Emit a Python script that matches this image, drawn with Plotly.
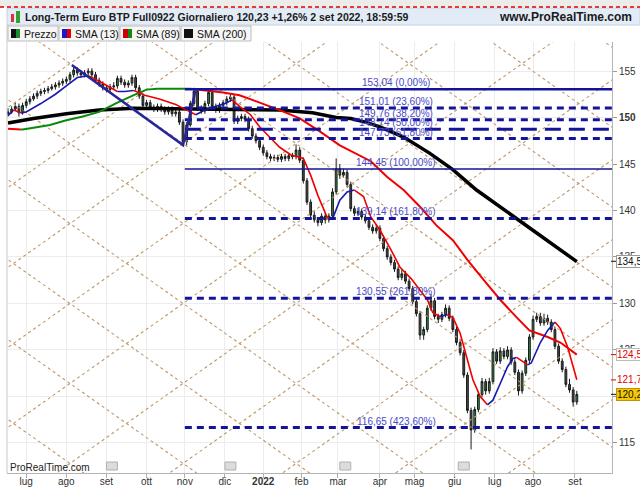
import plotly.graph_objects as go

# closes every second session, jun 2021 -> 2 set 2022
cl = [150.6, 150.9, 151.2, 150.5, 151.3, 151.7, 152.0, 152.3, 152.6, 152.8,
      152.9, 153.1, 153.3, 153.5, 153.7, 153.9, 154.1, 154.6, 155.1, 154.8,
      154.6, 154.8, 155.0, 154.6, 154.0, 153.6, 153.2, 153.0, 153.3, 153.4,
      154.2, 153.8, 153.5, 153.7, 154.3, 153.2, 152.3, 151.3, 151.6, 151.1,
      150.9, 151.2, 150.9, 150.6, 150.9, 150.4, 150.6, 149.5, 147.4, 149.2,
      151.5, 152.8, 151.0, 150.7, 151.5, 152.7, 151.2, 150.8, 151.3, 151.6,
      152.0, 152.2, 149.6, 149.9, 150.1, 149.8, 148.8, 148.0, 147.5, 146.8,
      146.2, 145.8, 145.6, 145.7, 145.5, 145.8, 145.6, 145.9, 145.8, 146.5,
      145.4, 143.2, 140.9, 139.5, 139.0, 138.7, 139.4, 139.0, 139.4, 142.0,
      144.5, 143.8, 144.1, 142.8, 140.2, 139.7, 139.9, 139.3, 138.9, 138.2,
      137.8, 138.1, 137.0, 135.9, 135.0, 134.4, 133.7, 132.8, 133.2, 132.4,
      131.6, 130.2, 128.9, 126.6, 127.2, 129.5, 130.3, 128.6, 128.3, 128.8,
      129.5, 128.4, 127.2, 125.8, 124.7, 122.3, 118.5, 116.4, 118.6, 120.2,
      121.6, 120.6, 121.6, 124.8, 123.8, 124.9, 124.3, 125.0, 123.7, 122.6,
      120.6, 122.5, 123.9, 126.4, 128.3, 128.6, 127.9, 128.4, 128.0, 127.2,
      125.4, 123.8, 122.9, 121.3, 120.7, 119.4, 120.23]
hi = [151.0, 151.2, 151.6, 151.5, 151.6, 152.0, 152.3, 152.6, 152.9, 153.1,
      153.2, 153.4, 153.6, 153.8, 154.0, 154.2, 154.4, 154.9, 155.5, 155.4,
      155.1, 155.1, 155.3, 155.3, 154.9, 154.3, 153.9, 153.5, 153.6, 153.8,
      154.5, 154.5, 154.1, 154.0, 154.6, 154.6, 153.5, 152.6, 151.9, 151.9,
      151.4, 151.5, 151.5, 151.2, 151.2, 151.2, 150.9, 150.9, 149.8, 149.5,
      151.8, 153.2, 153.1, 151.3, 151.8, 153.1, 153.0, 151.5, 151.6, 151.9,
      152.3, 152.6, 152.5, 150.2, 150.4, 150.4, 150.1, 149.1, 148.3, 147.8,
      147.1, 146.5, 146.1, 146.0, 146.0, 146.1, 146.1, 146.2, 146.2, 147.1,
      146.8, 145.7, 143.5, 141.2, 139.9, 139.3, 139.7, 139.7, 139.7, 142.4,
      145.6, 145.0, 144.5, 144.4, 143.1, 140.5, 140.2, 140.2, 139.6, 139.2,
      138.5, 138.5, 138.4, 137.3, 136.2, 135.3, 134.7, 134.0, 133.6, 133.5,
      132.7, 131.9, 130.5, 129.2, 127.5, 129.8, 131.0, 130.6, 128.9, 129.1,
      129.9, 129.8, 128.7, 127.5, 126.1, 125.0, 122.6, 118.8, 118.9, 120.5,
      122.0, 121.9, 122.0, 125.2, 125.1, 125.3, 125.2, 125.4, 125.3, 124.0,
      122.9, 122.8, 124.2, 126.7, 128.7, 129.0, 129.0, 128.9, 128.8, 128.3,
      127.5, 125.7, 124.1, 123.2, 121.9, 121.0, 120.6]
lo = [150.1, 150.4, 150.7, 150.1, 150.3, 151.0, 151.4, 151.8, 152.0, 152.3,
      152.5, 152.6, 152.9, 153.0, 153.2, 153.4, 153.6, 153.8, 154.3, 154.5,
      154.3, 154.3, 154.5, 154.3, 153.7, 153.3, 152.9, 152.7, 152.7, 153.0,
      153.1, 153.5, 153.2, 153.2, 153.4, 152.9, 152.0, 151.0, 151.0, 150.8,
      150.6, 150.6, 150.6, 150.3, 150.3, 150.1, 150.1, 149.2, 146.9, 147.0,
      149.0, 151.2, 150.7, 150.4, 150.4, 151.2, 150.9, 150.5, 150.5, 151.0,
      151.3, 151.7, 149.3, 149.3, 149.6, 149.5, 148.5, 147.7, 147.2, 146.5,
      145.9, 145.5, 145.3, 145.3, 145.2, 145.2, 145.3, 145.3, 145.5, 145.5,
      145.1, 142.9, 140.6, 139.2, 138.7, 138.3, 138.4, 138.6, 138.7, 139.1,
      141.7, 143.4, 143.5, 142.5, 139.9, 139.4, 139.4, 139.0, 138.6, 137.9,
      137.5, 137.5, 136.7, 135.6, 134.7, 134.1, 133.4, 132.5, 132.5, 132.1,
      131.3, 129.9, 128.6, 126.1, 126.1, 126.9, 129.2, 128.3, 127.9, 128.0,
      128.5, 128.1, 126.9, 125.5, 124.4, 122.0, 118.2, 114.3, 116.1, 118.3,
      119.9, 120.2, 120.3, 121.3, 123.5, 123.5, 124.0, 124.0, 123.4, 122.3,
      120.1, 120.3, 122.2, 123.6, 126.1, 128.0, 127.6, 127.6, 127.7, 126.9,
      125.1, 123.5, 122.6, 121.0, 120.4, 118.9, 119.1]
first_open = 150.4

# sessions per month, lug 2021 .. ago 2022
month_days = [22, 22, 22, 21, 22, 21, 21, 20, 23, 19, 22, 22, 21, 23]
first_month = 10
month_lbl = ["lug", "ago", "set", "ott", "nov", "dic", "<b>2022</b>", "feb",
             "mar", "apr", "mag", "giu", "lug", "ago", "set"]

sma13_x = [0, 3, 7, 10, 18, 26, 32, 38, 44, 50, 60, 64, 69, 75, 83, 92, 97, 103, 108, 114,
           119, 123, 127, 133, 138, 144, 149, 155, 162, 166, 170, 175, 178, 182, 186, 190,
           195, 199, 204, 210, 215, 221, 230, 233, 237, 241, 244, 248, 252, 255, 259, 263,
           266, 270, 274, 277, 279, 282, 285, 287, 292, 296, 300, 303, 307, 310, 312]
sma13_y = [150.2, 150.8, 150.5, 150.6, 151.5, 152.5, 153.4, 154.3, 154.5, 153.9,
           152.8, 152.8, 152.9, 152.4, 152.0, 151.4, 150.9, 150.3, 150.8, 151.2,
           151.5, 151.9, 151.2, 150.3, 149.0, 147.8, 146.8, 146.0, 145.6, 143.8,
           141.6, 139.3, 139.1, 141.1, 142.0, 142.2, 141.5, 139.3, 137.9, 135.8,
           133.9, 132.7, 130.4, 129.0, 128.6, 128.8, 128.5, 126.8, 123.9, 121.8,
           120.0, 119.1, 119.6, 121.4, 123.2, 124.1, 124.2, 123.8, 123.4, 123.6,
           125.8, 127.1, 128.0, 127.3, 125.3, 123.2, 121.8]
sma89_x = [0, 7, 8, 14, 23, 32, 41, 50, 60, 69, 76, 82, 89, 97, 100, 118, 127, 137, 149, 160,
           171, 182, 199, 208, 217, 226, 235, 244, 252, 261, 270, 279, 286, 296, 303, 312]
sma89_y = [148.8, 148.7, 148.7, 148.9, 149.2, 149.7, 150.1, 150.6, 151.6, 152.4,
           153.0, 153.1, 153.1, 153.1, 153.1, 152.7, 152.4, 151.7, 150.8, 149.9,
           148.5, 147.0, 145.3, 143.6, 142.2, 140.4, 138.4, 136.8, 134.7, 132.5,
           130.4, 128.5, 127.1, 126.4, 125.8, 124.5]
sma200_x = [0, 14, 32, 50, 69, 94, 122, 149, 167, 180, 188, 196, 204, 217, 231, 244,
            257, 270, 282, 297, 312]
sma200_y = [149.4, 149.9, 150.4, 150.8, 151.0, 150.95, 150.9, 150.8, 150.5, 150.0, 149.9,
            149.5, 149.0, 147.9, 146.2, 144.4, 142.2, 140.4, 138.7, 136.6, 134.5]

fib_val = [153.04, 151.01, 149.76, 148.74, 147.73, 144.45, 139.14, 130.55, 116.65]
fib_pct = ["0,00%", "23,60%", "38,20%", "50,00%", "61,80%", "100,00%", "161,80%",
           "261,80%", "423,60%"]
fib_start = 97

trend_x = [35, 96, 103]
trend_y = [155.65, 147.04, 153.04]

gann_a = (34, 155.8)
gann_b = (96, 147.2)

XR = [-0.55, 331.3]
YR = [111.77, 158.12]


def px(v):
    return (v - 7) / 605


def py(v):
    return (473 - v) / 431


fig = go.Figure()

# gann grid
sx = (gann_b[0] - gann_a[0]) / 2
sv = (gann_a[1] - gann_b[1]) / 2
slope = sv / sx
gx, gy = [], []
for n in range(-12, 12):
    for sgn in (1, -1):
        x0, x1 = -5, 340
        gx += [x0, x1, None]
        gy += [gann_a[1] + sgn * slope * (x0 - gann_a[0]) + 2 * sv * n,
               gann_a[1] + sgn * slope * (x1 - gann_a[0]) + 2 * sv * n, None]
fig.add_trace(go.Scatter(x=gx, y=gy, mode="lines",
                         line=dict(color="#be9866", width=1.1, dash="3px,3px")))


def add_colored(xs, ys, up, dn, w):
    runs = []
    for i in range(len(xs) - 1):
        c = up if ys[i + 1] >= ys[i] else dn
        if runs and runs[-1][0] == c:
            runs[-1][1].append(i + 1)
        else:
            runs.append([c, [i, i + 1]])
    for c, ks in runs:
        fig.add_trace(go.Scatter(x=[xs[k] for k in ks], y=[ys[k] for k in ks],
                                 mode="lines", line=dict(color=c, width=w)))


fig.add_trace(go.Scatter(x=sma200_x, y=sma200_y, mode="lines",
                         line=dict(color="black", width=3.5)))
add_colored(sma89_x, sma89_y, "#0a8a0a", "#f00000", 2)

xs = [2 * i for i in range(len(cl))]
op = [first_open] + cl[:-1]
fig.add_trace(go.Candlestick(
    x=xs, open=op, high=hi, low=lo, close=cl,
    increasing=dict(line=dict(color="#1a1a1a", width=1), fillcolor="#2b8a3e"),
    decreasing=dict(line=dict(color="#1a1a1a", width=1), fillcolor="#4a4a4a"),
    whiskerwidth=0))

add_colored(sma13_x, sma13_y, "#1818b0", "#f00000", 1.6)

# fibonacci levels
for v, p in zip(fib_val, fib_pct):
    if p in ("0,00%", "100,00%"):
        dash, w = "solid", (2.5 if p == "0,00%" else 1.5)
    elif p == "50,00%":
        dash, w = "16px,8px", 3
    else:
        dash, w = "7px,5px", 3
    fig.add_trace(go.Scatter(x=[fib_start, 335], y=[v, v], mode="lines",
                             line=dict(color="#14149a", width=w, dash=dash)))
    fig.add_annotation(x=213, y=v, xref="x", yref="y", yanchor="bottom",
                       text=f"{v:.2f}".replace(".", ",") + f" ({p})", showarrow=False,
                       font=dict(size=10, color="#4a4ac8"), borderpad=0)

fig.add_trace(go.Scatter(x=trend_x, y=trend_y, mode="lines",
                         line=dict(color="#26269a", width=2.5)))

# header, legend strip and decorations
shapes = [
    dict(type="rect", xref="paper", yref="paper", x0=px(0), x1=px(640), y0=py(7), y1=py(0),
         fillcolor="#ececea", line_width=0),
    dict(type="rect", xref="paper", yref="paper", x0=px(7), x1=px(640), y0=py(25), y1=py(8),
         fillcolor="#e3ecf6", line=dict(color="#c4d2e0", width=1)),
    dict(type="line", xref="paper", yref="paper", x0=px(0), x1=px(640), y0=py(7), y1=py(7),
         line=dict(color="#e00000", width=1.5, dash="4px,3px")),
    dict(type="line", xref="paper", yref="paper", x0=px(7), x1=px(7), y0=0, y1=py(25),
         line=dict(color="#c8c8c8", width=1)),
]
legend_items = [("Prezzo", 8, 58, "#111111", "#1f8a2e"),
                ("SMA (13)", 59, 119, "#1a1acc", "#e00000"),
                ("SMA (89)", 120, 180, "#d00000", "#108a10"),
                ("SMA (200)", 181, 251, "#111111", "#111111")]
for name, a, b, c1, c2 in legend_items:
    shapes.append(dict(type="rect", xref="paper", yref="paper", x0=px(a), x1=px(b),
                       y0=py(41), y1=py(26), fillcolor="#f6f6f6",
                       line=dict(color="#bcbcbc", width=1)))
    shapes.append(dict(type="rect", xref="paper", yref="paper", x0=px(a + 3), x1=px(a + 8),
                       y0=py(38), y1=py(29), fillcolor=c1, line_width=0))
    shapes.append(dict(type="rect", xref="paper", yref="paper", x0=px(a + 8), x1=px(a + 12),
                       y0=py(38), y1=py(29), fillcolor=c2, line_width=0))
    fig.add_annotation(x=px(a + 14), y=py(33.5), xref="paper", yref="paper", xanchor="left",
                       yanchor="middle", text=name, showarrow=False,
                       font=dict(size=10.5, color="#111"))
shapes.append(dict(type="rect", xref="paper", yref="paper", x0=px(11), x1=px(14),
                   y0=py(22), y1=py(14), fillcolor="#e03030", line_width=0))
shapes.append(dict(type="rect", xref="paper", yref="paper", x0=px(16), x1=px(20),
                   y0=py(23), y1=py(11), fillcolor="#30a030", line_width=0))
for fx in (57, 122, 185, 250):
    shapes.append(dict(type="rect", xref="x", yref="paper", x0=fx - 3, x1=fx + 3,
                       y0=py(470), y1=py(462), fillcolor="#dcdcdc",
                       line=dict(color="#b0b0b0", width=1)))

fig.add_annotation(x=px(23), y=py(17), xref="paper", yref="paper", xanchor="left",
                   yanchor="middle",
                   text="<b>Long-Term Euro BTP Full0922 Giornaliero 120,23 +1,26% 2 set 2022, 18:59:59</b>",
                   showarrow=False, font=dict(size=10.5, color="#1a1a1a"))
fig.add_annotation(x=px(497), y=py(17), xref="paper", yref="paper", xanchor="left",
                   yanchor="middle", text="<b>www.ProRealTime.com</b>", showarrow=False,
                   font=dict(size=12, color="#1a1a1a"))
fig.add_annotation(x=px(8), y=py(467), xref="paper", yref="paper", xanchor="left",
                   yanchor="middle", text="ProRealTime.com", showarrow=False,
                   font=dict(size=10, color="#222"))

# last values on the price axis
last_lbl = [(134.54, "134,5", "#111", "white", "#999"),
            (124.50, "124,5", "#e00000", "white", "#bbb"),
            (121.78, "121,7", "#e00000", "white", "white"),
            (120.23, "120,2", "#111", "#f5c800", "#c09000")]
for v, t, fc, bg, bc in last_lbl:
    shapes.append(dict(type="line", xref="paper", yref="y", x0=px(611), x1=px(616),
                       y0=v, y1=v, line=dict(color=fc, width=1)))
    fig.add_annotation(x=px(616), y=v, xref="paper", yref="y", xanchor="left",
                       yanchor="middle", text=t, showarrow=False,
                       font=dict(size=10, color=fc),
                       bgcolor=bg, bordercolor=bc, borderwidth=1, borderpad=0)

ytick = [115, 120, 125, 130, 135, 140, 145, 150, 155]
tickpos = [first_month]
for d in month_days:
    tickpos.append(tickpos[-1] + d)

fig.update_layout(
    width=640, height=488, margin=dict(l=7, r=28, t=42, b=15),
    paper_bgcolor="white", plot_bgcolor="white", showlegend=False,
    font=dict(family="Liberation Sans, Arial, sans-serif", size=10, color="#333"),
    shapes=shapes,
    xaxis=dict(range=XR, tickvals=tickpos, ticktext=month_lbl, ticks="outside",
               ticklen=4, tickcolor="#b0b0b0", showgrid=True, gridcolor="#ececec",
               showline=True, linecolor="#b4b4b4", zeroline=False, ticklabelstandoff=-5,
               automargin=False,
               rangeslider=dict(visible=False), tickfont=dict(size=10, color="#333")),
    yaxis=dict(range=YR, side="right", tickvals=ytick,
               ticktext=[("<b>150</b>" if v == 150 else str(v)) for v in ytick],
               ticks="outside", ticklen=4, tickcolor="#999", showgrid=True,
               gridcolor="#ececec", showline=True, linecolor="#b4b4b4", zeroline=False,
               automargin=False, tickfont=dict(size=10, color="#333")),
)

fig.write_html("out.html", config={"displayModeBar": False},
               post_script="document.body.style.margin='0';document.body.style.overflow='hidden';")
